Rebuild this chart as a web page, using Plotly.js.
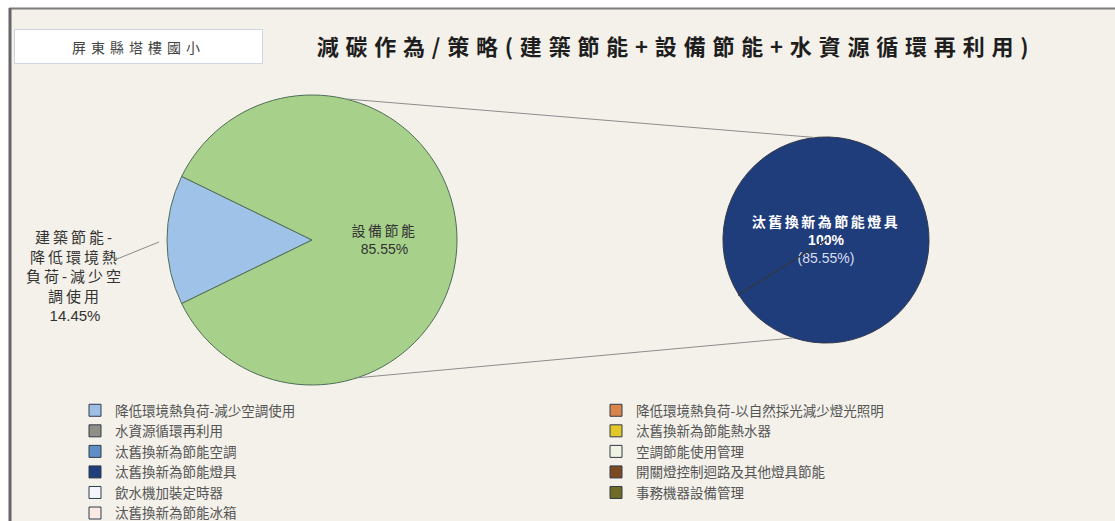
<!DOCTYPE html>
<html>
<head>
<meta charset="utf-8">
<script src="https://cdn.plot.ly/plotly-3.0.1.min.js"></script>
<style>
  html, body { margin: 0; padding: 0; background: #ffffff; }
  #chart { width: 1115px; height: 521px; }
  .gtitle { letter-spacing: 6.8px; }
  .annotation[data-index="0"] .annotation-text { letter-spacing: 5px; }
  .annotation[data-index="1"] .annotation-text { letter-spacing: 3px; }
  .annotation[data-index="1"] .annotation-text tspan.line:last-child { letter-spacing: 0; }
  .pielayer .trace .slicetext tspan.line:first-child { letter-spacing: 2.5px; }
</style>
</head>
<body>
<div id="chart"></div>
<script>
// ---- data ----
const chartTitle = '減碳作為/策略(建築節能+設備節能+水資源循環再利用)';
const schoolName = '屏東縣塔樓國小';

// main pie (left)
const mainLabels = ['建築節能-<br>降低環境熱<br>負荷-減少空<br>調使用', '設備節能'];
const mainValues = [14.45, 85.55];
const mainColors = ['#9fc2e9', '#a7d18b'];

// breakdown pie (right) - also carries the legend categories
const subLabels = [
  '降低環境熱負荷-減少空調使用',
  '降低環境熱負荷-以自然採光減少燈光照明',
  '水資源循環再利用',
  '汰舊換新為節能熱水器',
  '汰舊換新為節能空調',
  '空調節能使用管理',
  '汰舊換新為節能燈具',
  '開關燈控制迴路及其他燈具節能',
  '飲水機加裝定時器',
  '事務機器設備管理',
  '汰舊換新為節能冰箱'
];
const subValues = [0, 0, 0, 0, 0, 0, 85.55, 0, 0, 0, 0];
const subColors = ['#9dbfe6', '#d9844a', '#8f8f88', '#e3c627', '#5f8dc6', '#eef3e2',
                   '#1f3c7b', '#7c4a22', '#f4f4fb', '#6f6a25', '#f9ebe3'];

const W = 1115, H = 521;
const px = x => x / W;
const py = y => 1 - y / H;

const cjk = '"Noto Sans CJK TC", "Noto Sans CJK SC", sans-serif';
const numFont = '"Liberation Sans", "Noto Sans CJK TC", sans-serif';

const mainTotal = mainValues.reduce((a, b) => a + b, 0);
const mainPct = mainValues.map(v => (v / mainTotal * 100).toFixed(2) + '%');

const mainPie = {
  type: 'pie',
  labels: mainLabels,
  values: mainValues,
  sort: false,
  direction: 'clockwise',
  rotation: 244,
  marker: { colors: mainColors, line: { color: '#4f6d56', width: 1 } },
  texttemplate: '%{label}<br>%{percent:.2%}',
  textposition: ['none', 'inside'],
  insidetextorientation: 'horizontal',
  textfont: { family: numFont, size: 14, color: '#333333' },
  showlegend: false,
  hoverinfo: 'label+percent',
  domain: { x: [px(167), px(457)], y: [py(385), py(95)] }
};

const subPie = {
  type: 'pie',
  labels: subLabels,
  values: subValues,
  sort: false,
  direction: 'clockwise',
  rotation: 238,
  marker: { colors: subColors, line: { color: '#333a4a', width: 1 } },
  texttemplate: '<b>%{label}</b><br><b>%{percent:.0%}</b><br><span style="color:#d6def2">(%{value:.2f}%)</span>',
  textposition: subValues.map(v => v > 0 ? 'inside' : 'none'),
  insidetextorientation: 'horizontal',
  textfont: { family: numFont, size: 14, color: '#ffffff' },
  showlegend: true,
  hoverinfo: 'label+value',
  domain: { x: [px(723), px(929)], y: [py(343), py(137)] }
};

const layout = {
  width: W, height: H,
  margin: { l: 0, r: 0, t: 0, b: 0, autoexpand: false },
  paper_bgcolor: '#f3f1ea',
  font: { family: cjk, color: '#333333' },
  title: {
    text: chartTitle,
    x: px(676), xanchor: 'center', xref: 'paper',
    y: py(47), yanchor: 'middle', yref: 'container',
    font: { family: cjk, size: 22, color: '#1e1e1e', weight: 'bold' }
  },
  legend: {
    orientation: 'h',
    x: px(75), xanchor: 'left',
    y: py(395), yanchor: 'top',
    entrywidth: 476, entrywidthmode: 'pixels',
    bgcolor: 'rgba(0,0,0,0)',
    font: { family: cjk, size: 13.5, color: '#555555' },
    traceorder: 'normal'
  },
  annotations: [
    {
      text: schoolName,
      xref: 'paper', yref: 'paper',
      x: px(138.5), y: py(46.5), xanchor: 'center', yanchor: 'middle',
      width: 245, height: 31,
      showarrow: false,
      bgcolor: '#ffffff', bordercolor: '#cfd6e2', borderwidth: 1,
      font: { family: cjk, size: 14, color: '#444444' }
    },
    {
      // outside label of the small slice, with leader line
      text: mainLabels[0] + '<br>' + mainPct[0],
      xref: 'paper', yref: 'paper',
      x: px(159), y: py(242),
      showarrow: true, arrowhead: 0, arrowwidth: 1, arrowcolor: '#8a8a8a',
      ax: -84, ay: 34, standoff: 0,
      font: { family: numFont, size: 15, color: '#333333' }
    }
  ],
  shapes: [
    // outside strips
    { type: 'rect', xref: 'paper', yref: 'paper', x0: 0, x1: 1, y0: py(0), y1: py(8), fillcolor: '#ffffff', line: { width: 0 }, layer: 'below' },
    { type: 'rect', xref: 'paper', yref: 'paper', x0: 0, x1: px(9), y0: 0, y1: 1, fillcolor: '#ffffff', line: { width: 0 }, layer: 'below' },
    // frame
    { type: 'line', xref: 'paper', yref: 'paper', x0: px(9), x1: 1, y0: py(8.5), y1: py(8.5), line: { color: '#7d7d7d', width: 2 } },
    { type: 'line', xref: 'paper', yref: 'paper', x0: px(10), x1: px(10), y0: 0, y1: py(8), line: { color: '#666666', width: 3 } },
    // connector lines
    { type: 'line', xref: 'paper', yref: 'paper', x0: px(347), y0: py(99), x1: px(815), y1: py(137.5), line: { color: '#8c8c8c', width: 1 } },
    { type: 'line', xref: 'paper', yref: 'paper', x0: px(355), y0: py(378), x1: px(793), y1: py(338), line: { color: '#8c8c8c', width: 1 } }
  ]
};

Plotly.newPlot('chart', [mainPie, subPie], layout, { displayModeBar: false, staticPlot: true });
</script>
</body>
</html>
